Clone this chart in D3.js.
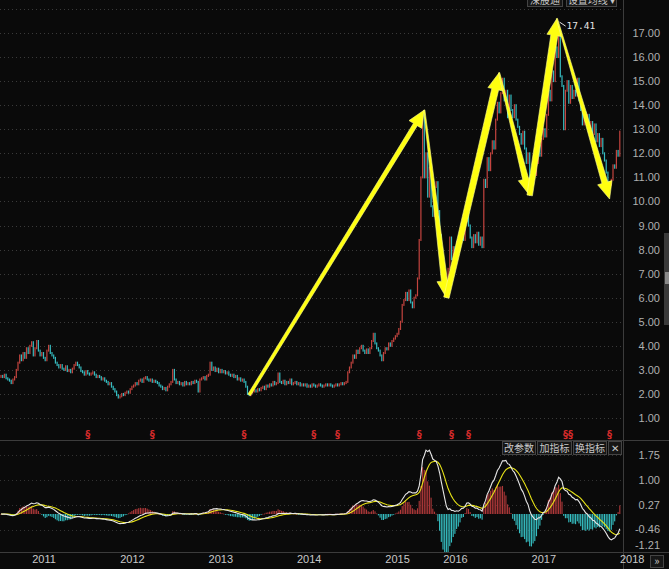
<!DOCTYPE html>
<html>
<head>
<meta charset="utf-8">
<script src="https://cdn.jsdelivr.net/npm/d3@7"></script>
<style>
    html, body { margin: 0; padding: 0; background: #0a0a0a; overflow: hidden; }
    svg { display: block; }
</style>
</head>
<body>
<svg id="chart" width="669" height="569"></svg>
<script>
// Weekly closes (trading weeks only, 2015 suspension skipped)
const closes2010 = [2.75, 2.7, 2.8, 2.65, 2.6, 2.55, 2.45, 2.6, 2.7, 3.0, 3.3, 3.6, 3.4, 3.7, 3.5, 3.9, 3.7, 4.0, 4.15, 3.6, 3.9, 4.2, 3.8, 3.6, 3.7];
const closes2011 = [3.5, 3.4, 3.8, 4.0, 3.7, 3.6, 3.5, 3.3, 3.2, 3.1, 3.2, 3.05, 3.0, 3.15, 2.95, 3.0, 2.9, 3.05, 3.2, 3.3, 3.2, 3.1, 2.95, 2.9, 2.8, 2.95, 2.85, 2.8, 2.85, 2.9, 2.8, 2.7, 2.75, 2.7, 2.6, 2.65, 2.55, 2.5, 2.4, 2.45, 2.3, 2.2, 2.1, 1.95, 1.85, 1.9, 2.0, 1.95, 2.05, 2.1, 2.05, 2.2];
const closes2012 = [2.3, 2.35, 2.45, 2.4, 2.55, 2.6, 2.5, 2.65, 2.7, 2.6, 2.55, 2.6, 2.5, 2.55, 2.5, 2.45, 2.35, 2.3, 2.2, 2.25, 2.15, 2.3, 2.4, 2.5, 3.0, 2.6, 2.45, 2.5, 2.4, 2.45, 2.35, 2.5, 2.4, 2.45, 2.4, 2.5, 2.45, 2.55, 2.5, 2.1, 2.6, 2.65, 2.7, 2.6, 2.75, 2.8, 3.3, 3.0, 3.1, 2.95, 3.05, 2.9];
const closes2013 = [3.0, 2.9, 2.95, 2.85, 2.9, 2.8, 2.75, 2.8, 2.7, 2.75, 2.6, 2.65, 2.55, 2.6, 2.5, 2.3, 2.0, 1.95, 2.05, 2.1, 2.15, 2.1, 2.2, 2.15, 2.25, 2.3, 2.2, 2.35, 2.3, 2.4, 2.35, 2.5, 2.4, 2.45, 2.85, 2.5, 2.45, 2.55, 2.4, 2.5, 2.45, 2.6, 2.4, 2.45, 2.5, 2.4, 2.45, 2.35, 2.4, 2.35, 2.4, 2.3];
const closes2014 = [2.35, 2.3, 2.4, 2.35, 2.3, 2.35, 2.4, 2.35, 2.3, 2.35, 2.4, 2.35, 2.4, 2.35, 2.3, 2.35, 2.4, 2.35, 2.4, 2.45, 2.4, 2.45, 2.5, 2.9, 3.1, 3.3, 3.6, 3.5, 3.8, 3.7, 3.9, 4.0, 3.8, 3.7, 3.85, 3.7, 3.9, 4.2, 4.5, 4.1, 3.9, 3.8, 3.6, 3.4, 3.7, 3.9, 3.85, 4.1, 4.0, 4.2, 4.3, 4.4];
const closes2015 = [4.5, 4.7, 5.0, 5.7, 5.9, 6.2, 5.9, 6.3, 5.8, 5.6, 6.0, 6.1, 6.8, 8.4, 11.0, 13.7, 11.0, 12.0, 10.2, 11.4, 9.8, 9.4, 10.6, 10.8, 9.6, 8.6, 7.4, 7.1, 6.5, 6.1, 7.2, 8.5, 7.6, 8.1];
const closes2016 = [7.8, 8.3, 8.0, 8.5, 8.9, 8.4, 9.2, 9.8, 9.0, 8.5, 8.1, 8.6, 8.3, 8.7, 8.2, 8.5, 8.1, 10.9, 10.6, 11.8, 11.3, 12.0, 12.5, 12.2, 13.4, 14.1, 13.7, 14.5, 15.1, 14.2, 14.6, 13.5, 14.4, 13.8, 13.5, 14.0, 13.4, 13.1, 12.8, 12.4, 12.9, 12.2, 11.6, 12.0, 10.6, 10.9, 11.3, 11.1, 11.6, 12.3, 11.9, 12.6];
const closes2017 = [13.0, 12.7, 13.6, 14.6, 14.2, 15.4, 15.0, 16.4, 16.0, 17.1, 15.2, 14.8, 13.0, 14.6, 15.0, 14.1, 14.8, 14.3, 14.6, 14.4, 15.1, 14.2, 13.8, 13.2, 13.7, 13.3, 13.6, 13.0, 13.3, 12.8, 13.2, 12.5, 12.8, 12.3, 12.6, 12.0, 11.7, 11.2, 10.8, 10.7, 10.9, 11.5, 11.4, 12.1, 11.9, 12.9];

// x axis: year label and the week index where that year starts
const yearLabels = ['2011', '2012', '2013', '2014', '2015', '2016', '2017', '2018'];
const yearStartWeek = [25, 77, 129, 181, 233, 267, 319, 371];

const priceTicks = [1, 2, 3, 4, 5, 6, 7, 8, 9, 10, 11, 12, 13, 14, 15, 16, 17];
const macdTicks = [1.75, 1.00, 0.27, -0.46, -1.21];

// red "§" event markers (week index)
const eventWeeks = [51, 89, 143, 184, 198, 246, 265, 275, 332, 335, 358];

// hand drawn yellow trend arrows: [week, price]
const trendPoints = [[146, 1.96], [249, 13.8], [262, 6.0], [293, 15.35], [311, 10.25], [327, 17.6], [358, 10.1]];
const trendWidths = [[3, 4.5], [1.2, 6], [5.5, 7], [1.2, 6], [5.5, 7], [1.2, 6]];

const peakWeek = 328;
const peakHigh = 17.41;

const closes = [].concat(closes2010, closes2011, closes2012, closes2013, closes2014, closes2015, closes2016, closes2017);

// MACD(12, 26, 9) from the closes
function ema(values, n) {
    const k = 2 / (n + 1);
    let prev = values[0];
    return values.map((v, i) => (i === 0 ? prev : (prev = prev + k * (v - prev))));
}
const ema12 = ema(closes, 12);
const ema26 = ema(closes, 26);
const dif = closes.map((c, i) => ema12[i] - ema26[i]);
const dea = ema(dif, 9);
const macd = dif.map((d, i) => 2 * (d - dea[i]));

const W = 669, H = 569;
const plotRight = 623;
const panelSplit = 440;
const panelBottom = 552;

const svg = d3.select('#chart');
svg.append('rect').attr('width', W).attr('height', H).attr('fill', '#0a0a0a');

const x = d3.scaleLinear().domain([0, closes.length - 1]).range([1, 1 + (closes.length - 1) * 1.7]);
const yPrice = d3.scaleLinear().domain([1, 17]).range([418, 33]);
const yMacd = d3.scaleLinear().domain([-1.21, 1.75]).range([554.8, 455]);

const defs = svg.append('defs');
defs.append('clipPath').attr('id', 'clipTop')
    .append('rect').attr('x', 0).attr('y', 0).attr('width', plotRight).attr('height', panelSplit);
defs.append('clipPath').attr('id', 'clipBottom')
    .append('rect').attr('x', 0).attr('y', panelSplit + 1).attr('width', plotRight).attr('height', panelBottom - panelSplit - 1);

// grid lines (dotted)
svg.append('g').selectAll('line')
    .data(priceTicks.concat([18]))
    .enter().append('line')
    .attr('x1', 0).attr('x2', plotRight)
    .attr('y1', d => Math.round(yPrice(d)) + 0.5).attr('y2', d => Math.round(yPrice(d)) + 0.5)
    .attr('stroke', '#3a3a3a').attr('stroke-dasharray', '1,3');

svg.append('g').selectAll('line')
    .data(macdTicks.slice(0, 4))
    .enter().append('line')
    .attr('x1', 0).attr('x2', plotRight)
    .attr('y1', d => Math.round(yMacd(d)) + 0.5).attr('y2', d => Math.round(yMacd(d)) + 0.5)
    .attr('stroke', '#333').attr('stroke-dasharray', '1,3');

// frame lines
const frame = svg.append('g').attr('stroke', '#3c3c3c').attr('stroke-width', 1);
frame.append('line').attr('x1', plotRight + 0.5).attr('x2', plotRight + 0.5).attr('y1', 0).attr('y2', H);
frame.append('line').attr('x1', 0).attr('x2', W).attr('y1', panelSplit + 0.5).attr('y2', panelSplit + 0.5);
frame.append('line').attr('x1', 0).attr('x2', W).attr('y1', panelBottom + 0.5).attr('y2', panelBottom + 0.5);

// candles: open taken as previous week's close
const upColor = '#c4443f';
const downColor = '#36bcc0';
svg.append('g').attr('clip-path', 'url(#clipTop)')
    .selectAll('rect')
    .data(closes)
    .enter().append('rect')
    .attr('x', (d, i) => x(i) - 0.6)
    .attr('width', 1.2)
    .attr('y', (d, i) => {
        const o = i > 0 ? closes[i - 1] : d;
        return yPrice(Math.max(o, d)) - 1;
    })
    .attr('height', (d, i) => {
        const o = i > 0 ? closes[i - 1] : d;
        return Math.max(3, Math.abs(yPrice(o) - yPrice(d)) + 2);
    })
    .attr('fill', (d, i) => (i > 0 && d < closes[i - 1] ? downColor : upColor));

// event markers
svg.append('g').selectAll('text')
    .data(eventWeeks)
    .enter().append('text')
    .attr('x', d => x(d))
    .attr('y', 438)
    .attr('text-anchor', 'middle')
    .attr('font-family', 'DejaVu Sans, sans-serif')
    .attr('font-size', '10px')
    .attr('font-weight', 'bold')
    .attr('fill', '#d42a2a')
    .text('§');

// MACD histogram
const macdG = svg.append('g').attr('clip-path', 'url(#clipBottom)');
macdG.selectAll('rect')
    .data(macd)
    .enter().append('rect')
    .attr('x', (d, i) => x(i) - 0.55)
    .attr('width', 1.1)
    .attr('y', d => Math.min(yMacd(0), yMacd(d)))
    .attr('height', d => Math.max(0.8, Math.abs(yMacd(d) - yMacd(0))))
    .attr('fill', d => (d >= 0 ? '#b0393a' : '#36c0c4'));

const macdLine = d3.line().x((d, i) => x(i)).y(d => yMacd(d));
macdG.append('path').datum(dea)
    .attr('d', macdLine).attr('fill', 'none').attr('stroke', '#e8e418').attr('stroke-width', 1.1);
macdG.append('path').datum(dif)
    .attr('d', macdLine).attr('fill', 'none').attr('stroke', '#e6e6e6').attr('stroke-width', 1.1);

// yellow trend arrows
function arrowShape(p0, p1, w0, w1) {
    const dx = p1[0] - p0[0], dy = p1[1] - p0[1];
    const len = Math.hypot(dx, dy);
    const ux = dx / len, uy = dy / len, nx = -uy, ny = ux;
    const headLen = 17, headW = 7.5;
    const bx = p1[0] - ux * headLen, by = p1[1] - uy * headLen;
    return [
        [p0[0] + nx * w0 / 2, p0[1] + ny * w0 / 2],
        [bx + nx * w1 / 2, by + ny * w1 / 2],
        [bx + nx * headW, by + ny * headW],
        [p1[0], p1[1]],
        [bx - nx * headW, by - ny * headW],
        [bx - nx * w1 / 2, by - ny * w1 / 2],
        [p0[0] - nx * w0 / 2, p0[1] - ny * w0 / 2]
    ];
}
const arrowPts = trendPoints.map(p => [x(p[0]), yPrice(p[1])]);
const arrowData = arrowPts.slice(1).map((p, i) => arrowShape(arrowPts[i], p, trendWidths[i][0], trendWidths[i][1]));
svg.append('g').attr('clip-path', 'url(#clipTop)')
    .selectAll('path')
    .data(arrowData)
    .enter().append('path')
    .attr('d', d => d3.line()(d) + 'Z')
    .attr('fill', '#ffff10')
    .attr('stroke', '#fdfd90')
    .attr('stroke-width', 0.6)
    .attr('stroke-linejoin', 'round');

// peak label
const px = x(peakWeek), py = yPrice(peakHigh);
svg.append('line')
    .attr('x1', px + 1).attr('y1', py - 1).attr('x2', px + 7).attr('y2', py + 3)
    .attr('stroke', '#e0e0e0').attr('stroke-width', 1);
svg.append('text')
    .attr('x', px + 8).attr('y', py + 6)
    .attr('font-family', 'DejaVu Sans Mono, monospace')
    .attr('font-size', '9.5px')
    .attr('fill', '#e6e6e6')
    .text(peakHigh.toFixed(2));

// right price axis
const priceAxis = svg.append('g')
    .attr('transform', `translate(660,0)`)
    .call(d3.axisRight(yPrice).tickValues(priceTicks).tickSize(0).tickFormat(d3.format('.2f')));
priceAxis.select('.domain').remove();
priceAxis.selectAll('text')
    .attr('x', 0).attr('text-anchor', 'end')
    .attr('fill', '#b0b0b0')
    .style('font-family', 'Liberation Sans, Arial, sans-serif')
    .style('font-size', '11px');

// right MACD axis (bottom label sits on the panel edge)
svg.append('g').selectAll('text')
    .data(macdTicks)
    .enter().append('text')
    .attr('x', 660)
    .attr('y', d => Math.min(yMacd(d), 545))
    .attr('dy', '0.35em')
    .attr('text-anchor', 'end')
    .attr('fill', '#b0b0b0')
    .attr('font-family', 'Liberation Sans, Arial, sans-serif')
    .attr('font-size', '11px')
    .text(d => d.toFixed(2));

// year axis
const yearAxis = svg.append('g')
    .attr('transform', `translate(0,${panelBottom})`)
    .call(d3.axisBottom(x).tickValues(yearStartWeek).tickSize(0).tickFormat((d, i) => yearLabels[i]));
yearAxis.select('.domain').remove();
yearAxis.selectAll('text')
    .attr('y', 3)
    .attr('fill', '#c8c8c8')
    .style('font-family', 'Liberation Sans, Arial, sans-serif')
    .style('font-size', '11px');

// little UI bits: buttons, scroll bar
function button(g, bx, by, bw, bh, label, size) {
    g.append('rect').attr('x', bx + 0.5).attr('y', by + 0.5).attr('width', bw).attr('height', bh)
        .attr('fill', '#161616').attr('stroke', '#444');
    g.append('text').attr('x', bx + bw / 2 + 0.5).attr('y', by + bh / 2 + 0.5)
        .attr('dy', '0.36em').attr('text-anchor', 'middle')
        .attr('fill', '#c8c8c8')
        .attr('font-family', 'Noto Sans CJK SC, sans-serif')
        .attr('font-size', size || '10px')
        .text(label);
}
const ui = svg.append('g');
button(ui, 527, -6, 35, 12, '深股通');
button(ui, 566, -6, 50, 12, '设置均线 ▾');
button(ui, 502, 441, 33, 13, '改参数');
button(ui, 537, 441, 34, 13, '加指标');
button(ui, 573, 441, 33, 13, '换指标');
button(ui, 608, 441, 13, 13, '✕', '10px');
button(ui, 650, 555, 13, 12, '»', '11px');

ui.append('rect').attr('x', 664).attr('y', 233).attr('width', 5).attr('height', 92).attr('fill', '#3a3a3a');
ui.append('rect').attr('x', 665).attr('y', 272).attr('width', 4).attr('height', 12).attr('fill', '#8a8a8a');
</script>
</body>
</html>
